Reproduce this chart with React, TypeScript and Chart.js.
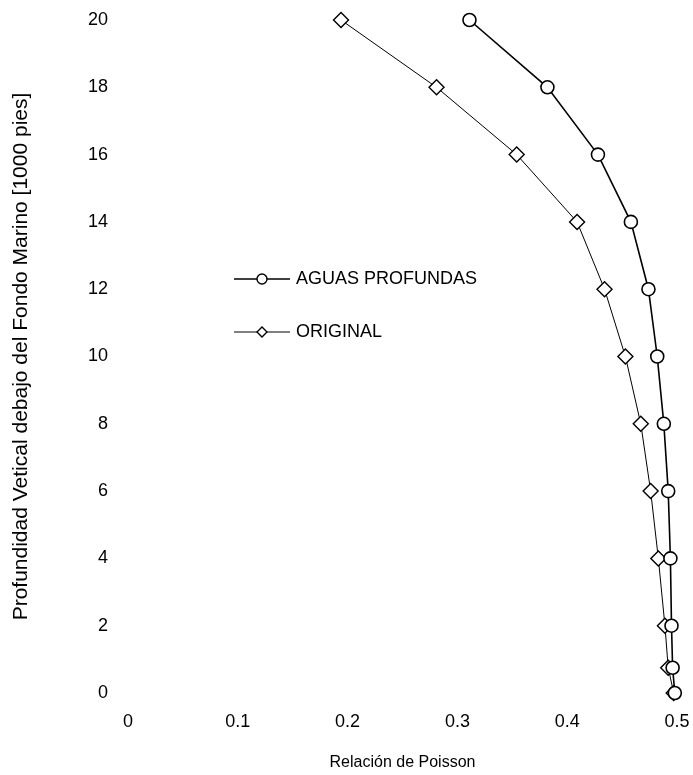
import React, { useEffect, useRef } from "react";
import { Chart, registerables } from "chart.js";

Chart.register(...registerables);

const depth = [0, 0.75, 2, 4, 6, 8, 10, 12, 14, 16, 18, 20];
const aguasProfundas = [0.498, 0.496, 0.495, 0.494, 0.492, 0.488, 0.482, 0.474, 0.458, 0.428, 0.382, 0.311];
const original = [0.497, 0.492, 0.489, 0.483, 0.476, 0.467, 0.453, 0.434, 0.409, 0.354, 0.281, 0.194];
const seriesNames = ["AGUAS PROFUNDAS", "ORIGINAL"];
const xTitle = "Relación de Poisson";
const yTitle = "Profundidad Vetical debajo del Fondo Marino [1000 pies]";

const FONT = "'Liberation Sans', Arial, sans-serif";

const legendPlugin = {
  id: "customLegend",
  afterDraw(chart: any) {
    const { ctx, chartArea } = chart;
    const x0 = chartArea.left + 106;
    const rows = [chartArea.top + 259, chartArea.top + 312];
    ctx.save();
    rows.forEach((y: number, i: number) => {
      ctx.strokeStyle = "#000";
      ctx.lineWidth = i === 0 ? 1.6 : 1;
      ctx.beginPath();
      ctx.moveTo(x0, y);
      ctx.lineTo(x0 + 56, y);
      ctx.stroke();
      const cx = x0 + 28;
      ctx.fillStyle = "#fff";
      ctx.lineWidth = 1.4;
      ctx.beginPath();
      if (i === 0) {
        ctx.arc(cx, y, 5, 0, Math.PI * 2);
      } else {
        ctx.moveTo(cx - 5, y);
        ctx.lineTo(cx, y - 5);
        ctx.lineTo(cx + 5, y);
        ctx.lineTo(cx, y + 5);
        ctx.closePath();
      }
      ctx.fill();
      ctx.stroke();
      ctx.fillStyle = "#000";
      ctx.font = `18px ${FONT}`;
      ctx.textBaseline = "middle";
      ctx.textAlign = "left";
      ctx.fillText(seriesNames[i], x0 + 62, y);
    });
    ctx.restore();
  },
};

export default function App() {
  const ref = useRef<HTMLCanvasElement | null>(null);
  useEffect(() => {
    if (!ref.current) return;
    const chart = new Chart(ref.current, {
      type: "line",
      data: {
        datasets: [
          {
            label: seriesNames[0],
            data: depth.map((d, i) => ({ x: aguasProfundas[i], y: d })),
            borderColor: "#000",
            borderWidth: 1.6,
            backgroundColor: "#fff",
            pointStyle: "circle",
            pointRadius: 6.5,
            pointBorderWidth: 1.6,
            pointBorderColor: "#000",
            pointBackgroundColor: "#fff",
            tension: 0,
            clip: false,
          },
          {
            label: seriesNames[1],
            data: depth.map((d, i) => ({ x: original[i], y: d })),
            borderColor: "#000",
            borderWidth: 1,
            backgroundColor: "#fff",
            pointStyle: "rectRot",
            pointRadius: 7.5,
            pointBorderWidth: 1.4,
            pointBorderColor: "#000",
            pointBackgroundColor: "#fff",
            tension: 0,
            clip: false,
          },
        ],
      },
      options: {
        responsive: false,
        animation: false,
        layout: { padding: { left: 0, right: 16, top: 20, bottom: 0 } },
        plugins: { legend: { display: false }, tooltip: { enabled: false } },
        scales: {
          x: {
            type: "linear",
            min: 0,
            max: 0.5,
            grid: { display: false },
            border: { display: false },
            ticks: {
              stepSize: 0.1,
              color: "#000",
              padding: 10,
              font: { size: 18, family: FONT },
              callback: (v: any) => String(Math.round(Number(v) * 10) / 10),
            },
            title: {
              display: true,
              text: xTitle,
              color: "#000",
              font: { size: 16, family: FONT },
              padding: { top: 0, bottom: 3 },
            },
            afterFit: (s: any) => {
              s.height = 82;
              s.paddingLeft = 0;
              s.paddingRight = 0;
            },
          },
          y: {
            type: "linear",
            min: 0,
            max: 20,
            grid: { display: false },
            border: { display: false },
            ticks: {
              stepSize: 2,
              color: "#000",
              padding: 12,
              font: { size: 18, family: FONT },
            },
            title: {
              display: true,
              text: yTitle,
              color: "#000",
              font: { size: 21, family: FONT },
              padding: { top: 9, bottom: 0 },
            },
            afterFit: (s: any) => {
              s.width = 128;
              s.paddingTop = 0;
              s.paddingBottom = 0;
            },
          },
        },
      },
      plugins: [legendPlugin],
    });
    return () => chart.destroy();
  }, []);
  return (
    <div style={{ position: "absolute", left: 0, top: 0, width: 693, height: 775, background: "#fff" }}>
      <canvas ref={ref} width={693} height={775} style={{ display: "block" }} />
    </div>
  );
}
